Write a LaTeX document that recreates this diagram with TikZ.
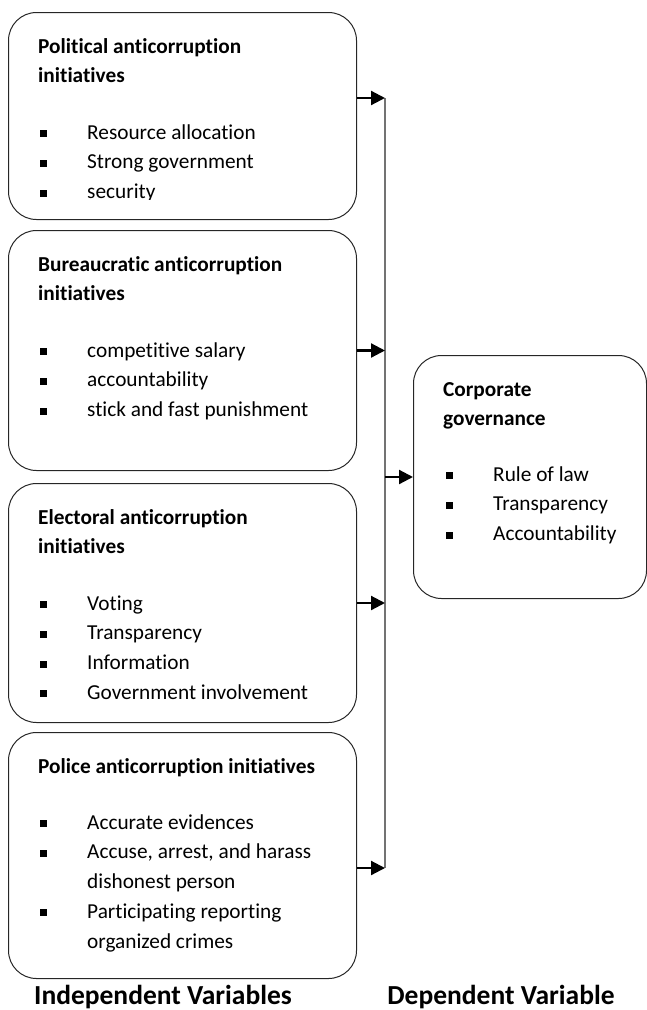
\documentclass[tikz,border=0pt]{standalone}
\usepackage{fontspec}
\setmainfont{Carlito}[Ligatures = NoCommon]
\usetikzlibrary{arrows.meta}
\usetikzlibrary{positioning}

\newcommand{\sq}{\makebox[47pt][l]{\rule[2pt]{7pt}{7pt}}}
\newcommand{\gap}{\hspace*{47pt}}

\begin{document}
\begin{tikzpicture}[x = 1pt, y = -1pt]
\tikzstyle{panel}=[draw = black!85, line width = 1pt, rounded corners = 28pt,
                   anchor = north west, inner sep = 0pt]
\tikzstyle{head}=[anchor = north west, inner sep = 0pt, align = left,
                  font = \bfseries\fontsize{21.3}{29.5}\selectfont]
\tikzstyle{items}=[anchor = north west, inner sep = 0pt, align = left,
                   font = \fontsize{21.3}{29.8}\selectfont]
\tikzstyle{link}=[-{Triangle[length = 14pt, width = 14pt]}, line width = 2.2pt]
\tikzstyle{bus}=[draw = black!55, line width = 1.6pt]
\tikzstyle{caption}=[anchor = base, inner sep = 0pt,
                     font = \bfseries\fontsize{27.5}{32}\selectfont]
\useasboundingbox (0,0) rectangle (647,1010);
% boxes
\node[panel, minimum width = 348pt, minimum height = 207pt] (polit) at (8,12) {};
\node[panel, minimum width = 348pt, minimum height = 240pt] (bureau) at (8,230) {};
\node[panel, minimum width = 348pt, minimum height = 239pt] (elect) at (8,483) {};
\node[panel, minimum width = 348pt, minimum height = 246pt] (police) at (8,732) {};
\node[panel, minimum width = 233pt, minimum height = 243pt] (corp) at (413,355) {};
% texts
\node[head, below right = 20.35pt and 30pt of polit.north west] (polit-head) {\strut Political anticorruption\\initiatives};
\begin{scope}
\clip (8,12) rectangle (356,199);
\node[items, below right = 106pt and 32pt of polit.north west] (polit-list) {\strut\sq Resource allocation\\ \sq Strong government\\ \sq security};
\end{scope}
\node[head, below right = 20.35pt and 30pt of bureau.north west] (bureau-head) {\strut Bureaucratic anticorruption\\initiatives};
\node[items, below right = 106pt and 32pt of bureau.north west] (bureau-list) {\strut\sq competitive salary\\ \sq accountability\\ \sq stick and fast punishment};
\node[head, below right = 20.35pt and 30pt of elect.north west] (elect-head) {\strut Electoral anticorruption\\initiatives};
\node[items, below right = 106pt and 32pt of elect.north west] (elect-list) {\strut\sq Voting\\ \sq Transparency\\ \sq Information\\ \sq Government involvement};
\node[head, below right = 20.35pt and 30pt of police.north west] (police-head) {\strut Police anticorruption initiatives};
\node[items, below right = 76pt and 32pt of police.north west] (police-list) {\strut\sq Accurate evidences\\ \sq Accuse, arrest, and harass\\ \gap dishonest person\\ \sq Participating reporting\\ \gap organized crimes};
\node[head, below right = 20.35pt and 30pt of corp.north west] (corp-head) {\strut Corporate\\governance};
\node[items, below right = 105pt and 33pt of corp.north west] (corp-list) {\strut\sq Rule of law\\ \sq Transparency\\ \sq Accountability};
% connectors
\coordinate (bustop) at (385,98);
\coordinate (busbot) at (385,868);
\draw[bus] (bustop) -- (busbot);
\draw[link] (polit.east |- bustop) -- (bustop);
\draw[link] (bureau.east) -- (bureau.east -| bustop);
\draw[link] (elect.east) -- (elect.east -| bustop);
\draw[link] (police.east |- busbot) -- (busbot);
\draw[link] (corp.west -| bustop) -- (corp.west);
% captions
\node[caption] (indep) at (163,1004) {Independent Variables};
\node[caption] (dep) at (501,1004) {Dependent Variable};
\end{tikzpicture}
\end{document}
